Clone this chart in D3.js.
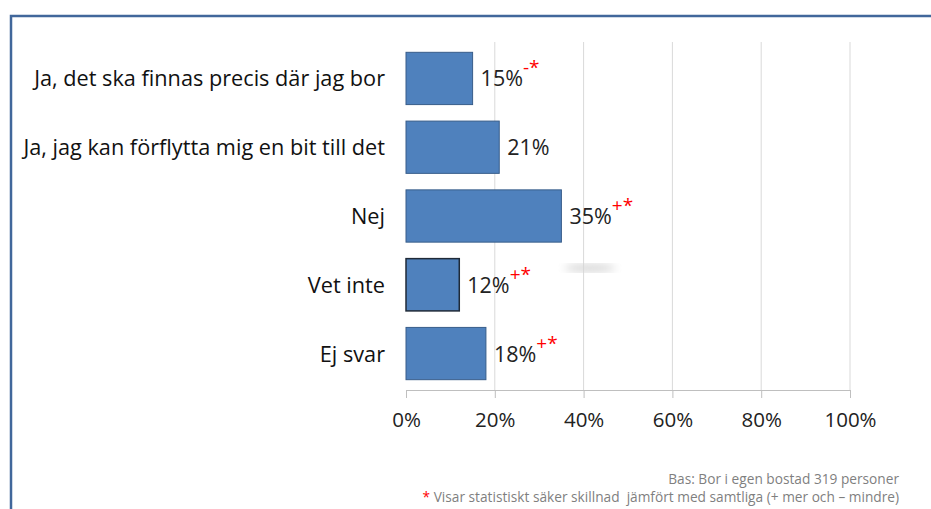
<!DOCTYPE html>
<html>
<head>
<meta charset="utf-8">
<script src="https://cdn.jsdelivr.net/npm/d3@7"></script>
<style>
  body { margin: 0; background: #fff; }
  text { font-family: "Open Sans", sans-serif; }
</style>
</head>
<body>
<svg id="chart" width="931" height="509"></svg>
<script>
const categories = ['Ja, det ska finnas precis där jag bor', 'Ja, jag kan förflytta mig en bit till det', 'Nej', 'Vet inte', 'Ej svar']
const values = [15, 21, 35, 12, 18]
const marks = ['-*', '+*', '+*', '+*', '+*']
const showMark = [true, false, true, true, true]
const ticks = [0, 20, 40, 60, 80, 100]

const svg = d3.select('#chart')

// frame
svg.append('path')
  .attr('d', 'M11,509 V16 H931')
  .attr('fill', 'none')
  .attr('stroke', '#41679b')
  .attr('stroke-width', 2.5)

const margin = { left: 406, top: 42 }
const width = 444
const height = 348

const g = svg.append('g')
  .attr('transform', 'translate(' + margin.left + ',' + margin.top + ')')

const x = d3.scaleLinear().domain([0, 100]).range([0, width])
const y = d3.scaleBand().domain(categories).range([0, height]).paddingInner(0.24).paddingOuter(0.15)

// gridlines
g.selectAll('.grid')
  .data(ticks.slice(1))
  .enter().append('line')
  .attr('x1', d => x(d)).attr('x2', d => x(d))
  .attr('y1', 0).attr('y2', height)
  .attr('stroke', '#d9d9d9')
  .attr('stroke-width', 1)

// blurred smudge
const defs = svg.append('defs')
defs.append('filter').attr('id', 'blur')
  .append('feGaussianBlur').attr('stdDeviation', 4)
svg.append('ellipse')
  .attr('cx', 590).attr('cy', 268).attr('rx', 26).attr('ry', 4)
  .attr('fill', '#d6d6d6').attr('filter', 'url(#blur)')

// bars
g.selectAll('.bar')
  .data(categories)
  .enter().append('rect')
  .attr('x', 0)
  .attr('y', d => y(d))
  .attr('width', (d, i) => x(values[i]))
  .attr('height', y.bandwidth())
  .attr('fill', '#4f81bd')
  .attr('stroke', (d, i) => i === 3 ? '#1f2a38' : '#385d8a')
  .attr('stroke-width', (d, i) => i === 3 ? 1.5 : 1)

// value labels
const lab = g.selectAll('.val')
  .data(categories)
  .enter().append('text')
  .attr('x', (d, i) => x(values[i]) + 8)
  .attr('y', d => y(d) + y.bandwidth() / 2 + 8)
  .attr('font-size', '21.5px')
  .attr('fill', '#222')
lab.append('tspan').text((d, i) => values[i] + '%')
lab.filter((d, i) => showMark[i]).append('tspan')
  .attr('dy', -12)
  .attr('fill', '#ff0000')
  .attr('font-size', '19px')
  .text((d, i) => marks[i])

// category labels
g.selectAll('.cat')
  .data(categories)
  .enter().append('text')
  .attr('x', -21)
  .attr('y', d => y(d) + y.bandwidth() / 2 + 8)
  .attr('text-anchor', 'end')
  .attr('font-size', '21.7px')
  .attr('fill', '#111')
  .text(d => d)

// x axis
const ax = g.append('g')
  .attr('transform', 'translate(0,' + height + ')')
  .call(d3.axisBottom(x).tickValues(ticks).tickSize(8).tickPadding(14).tickFormat(d => d + '%'))
ax.select('.domain').attr('stroke', '#bfbfbf')
ax.selectAll('.tick line').attr('stroke', '#bfbfbf')
ax.selectAll('.tick text').attr('font-size', '20.5px').attr('fill', '#222')
  .style('font-family', '"Open Sans", sans-serif')

// footnotes
svg.append('text')
  .attr('x', 899).attr('y', 484)
  .attr('text-anchor', 'end')
  .attr('font-size', '13.7px')
  .attr('fill', '#7f7f7f')
  .text('Bas: Bor i egen bostad 319 personer')
const fn = svg.append('text')
  .attr('x', 899).attr('y', 502)
  .attr('text-anchor', 'end')
  .attr('font-size', '13.7px')
  .attr('fill', '#7f7f7f')
  .attr('xml:space', 'preserve')
fn.append('tspan').attr('fill', '#ff0000').text('*')
fn.append('tspan').text(' Visar statistiskt säker skillnad  jämfört med samtliga (+ mer och – mindre)')
</script>
</body>
</html>
